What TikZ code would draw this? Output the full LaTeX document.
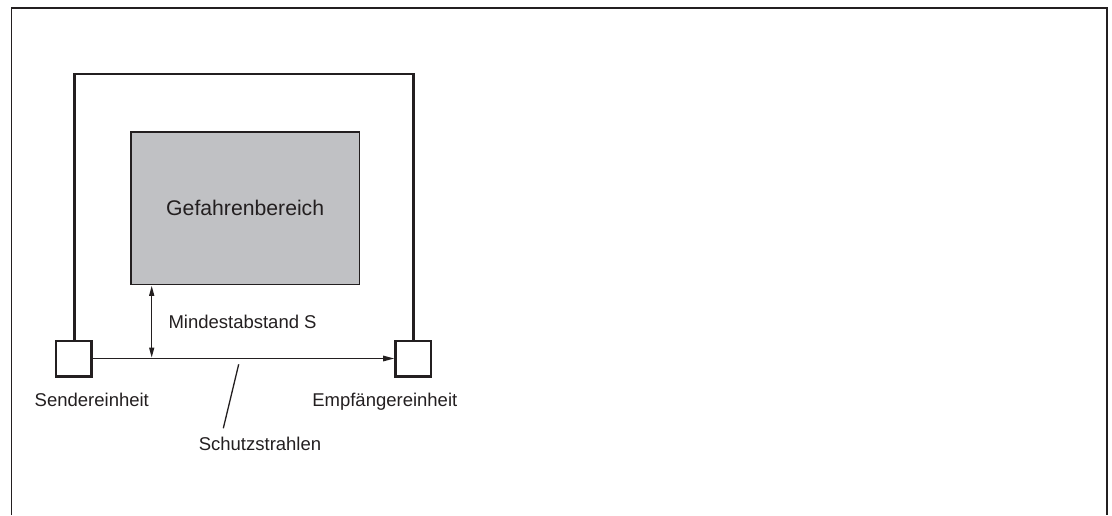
\documentclass[tikz,border=0pt]{standalone}
\usepackage{fontspec}
\setmainfont{Liberation Sans}
\usetikzlibrary{arrows.meta}
\definecolor{ink}{HTML}{231F20}
\definecolor{zone}{HTML}{C0C1C4}
\tikzset{
  unitbox/.style={draw=ink, line width=2.6pt, minimum size=35.4pt, inner sep=0pt, fill=white},
  label/.style={inner sep=0pt, text=ink, font=\fontsize{18.5}{22}\selectfont},
  thin/.style={draw=ink, line width=1.3pt},
  thick/.style={draw=ink, line width=2.8pt},
  tip/.style={-{Triangle[length=11pt,width=5.5pt]}},
  dtip/.style={{Triangle[length=10pt,width=5pt]}-{Triangle[length=10pt,width=5pt]}}
}
\begin{document}
\begin{tikzpicture}[x=1pt,y=-1pt]
\useasboundingbox (0,0) rectangle (1112,515);
% frame (open at the bottom)
\draw[draw=ink, line width=1.5pt] (11.5,515) -- (11.5,8) -- (1107,8) -- (1107,515);
% danger zone
\node[draw=ink, fill=zone, line width=1.5pt, minimum width=228.8pt, minimum height=152.2pt,
      inner sep=0pt, text=ink, font=\fontsize{21.2}{25}\selectfont] (gefahr) at (245.2,208.2) {Gefahrenbereich};
% units
\coordinate (topl) at (74.3,74);
\node[unitbox] (sender) at (73.5,358.5) {};
\node[unitbox] (receiver) at (413.2,358.5) {};
\draw[thick] (sender.north -| topl) -- (topl) -| (receiver.north);
% beam
\draw[thin, tip] (sender.east) -- (receiver.west);
% minimum distance
\coordinate (dtop) at (151.7,285.8);
\coordinate (dbot) at (151.7,357.6);
\draw[thin, dtip] (dtop) -- (dbot);
\node[label, anchor=base west] (mind) at (168.3,328) {Mindestabstand S};
% labels
\node[label, anchor=base] (sendlbl) at (91.8,406) {Sendereinheit};
\node[label, anchor=base] (recvlbl) at (384.8,406) {Empfängereinheit};
\node[label, anchor=base] (beamlbl) at (260,450.7) {Schutzstrahlen};
\coordinate (ptop) at (238.7,364.3);
\coordinate (pbot) at (223.3,428.3);
\draw[thin] (ptop) -- (pbot);
\end{tikzpicture}
\end{document}
